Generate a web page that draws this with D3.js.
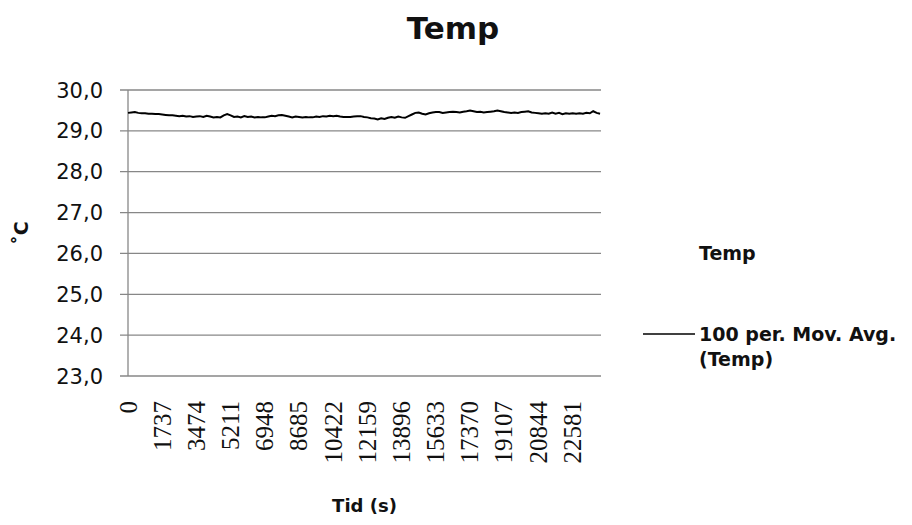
<!DOCTYPE html>
<html>
<head>
<meta charset="utf-8">
<script src="https://cdn.jsdelivr.net/npm/d3@7"></script>
<style>
  html, body { margin: 0; padding: 0; background: #fff; }
  svg { display: block; }
</style>
</head>
<body>
<svg id="chart" width="912" height="525"></svg>
<script>
// Temperature readings (°C), one every 174 s
const sampleStep = 174;
const temps = [
  29.44, 29.45, 29.46, 29.44, 29.43, 29.43, 29.42, 29.42, 29.41, 29.41,
  29.40, 29.39, 29.38, 29.38, 29.37, 29.36, 29.37, 29.35, 29.36, 29.34,
  29.35, 29.36, 29.34, 29.37, 29.35, 29.33, 29.34, 29.33, 29.38, 29.41,
  29.38, 29.34, 29.35, 29.33, 29.36, 29.34, 29.35, 29.33, 29.34, 29.33,
  29.33, 29.35, 29.37, 29.36, 29.38, 29.39, 29.37, 29.35, 29.33, 29.35,
  29.34, 29.33, 29.34, 29.33, 29.33, 29.35, 29.34, 29.36, 29.35, 29.37,
  29.36, 29.37, 29.35, 29.34, 29.34, 29.34, 29.35, 29.36, 29.36, 29.34,
  29.33, 29.31, 29.30, 29.28, 29.31, 29.29, 29.32, 29.34, 29.32, 29.35,
  29.33, 29.32, 29.36, 29.40, 29.44, 29.45, 29.42, 29.40, 29.43, 29.45,
  29.46, 29.46, 29.44, 29.45, 29.46, 29.47, 29.46, 29.45, 29.47, 29.48,
  29.50, 29.48, 29.46, 29.47, 29.45, 29.46, 29.47, 29.48, 29.50, 29.48,
  29.46, 29.45, 29.44, 29.45, 29.44, 29.46, 29.47, 29.48, 29.45, 29.44,
  29.43, 29.42, 29.43, 29.42, 29.45, 29.42, 29.44, 29.41, 29.43, 29.42,
  29.43, 29.42, 29.43, 29.42, 29.44, 29.43, 29.48, 29.44, 29.42
];
const xTickLabels = [0, 1737, 3474, 5211, 6948, 8685, 10422, 12159, 13896,
  15633, 17370, 19107, 20844, 22581];
const yTicks = [23, 24, 25, 26, 27, 28, 29, 30];
const xMax = 24060;

const sans = "'DejaVu Sans', Verdana, sans-serif";
const serif = "'Liberation Serif', 'DejaVu Serif', serif";
const gridColor = "#878787";

const svg = d3.select("#chart");
const plot = { left: 128, right: 601, top: 90, bottom: 376 };

const x = d3.scaleLinear().domain([0, xMax]).range([plot.left, plot.right]);
const y = d3.scaleLinear().domain([23, 30]).range([plot.bottom, plot.top]);

// Horizontal gridlines with short outer ticks
svg.append("g")
  .selectAll("line")
  .data(yTicks)
  .join("line")
  .attr("x1", plot.left - 8)
  .attr("x2", plot.right)
  .attr("y1", d => y(d))
  .attr("y2", d => y(d))
  .attr("stroke", gridColor)
  .attr("stroke-width", 1.3);

// Y axis line
svg.append("line")
  .attr("x1", plot.left).attr("x2", plot.left)
  .attr("y1", plot.top).attr("y2", plot.bottom)
  .attr("stroke", gridColor).attr("stroke-width", 1.3);

// Y tick labels (decimal comma)
svg.append("g")
  .selectAll("text")
  .data(yTicks)
  .join("text")
  .attr("x", 103)
  .attr("y", d => y(d))
  .attr("dy", "0.36em")
  .attr("text-anchor", "end")
  .attr("font-family", sans)
  .attr("font-size", 21)
  .attr("fill", "#111")
  .text(d => d3.format(".1f")(d).replace(".", ","));

// X tick labels, rotated
svg.append("g")
  .selectAll("text")
  .data(xTickLabels)
  .join("text")
  .attr("transform", d => `translate(${x(d)},401) rotate(-90)`)
  .attr("dy", "0.35em")
  .attr("text-anchor", "end")
  .attr("font-family", serif)
  .attr("font-size", 25)
  .attr("fill", "#111")
  .text(d => d);

// Temperature line
const line = d3.line()
  .x((d, i) => x(i * sampleStep))
  .y(d => y(d));

svg.append("path")
  .datum(temps)
  .attr("d", line)
  .attr("fill", "none")
  .attr("stroke", "#000")
  .attr("stroke-width", 2)
  .attr("stroke-linejoin", "miter");

// Title
svg.append("text")
  .attr("x", 453).attr("y", 39)
  .attr("text-anchor", "middle")
  .attr("font-family", sans)
  .attr("font-weight", "bold")
  .attr("font-size", 31)
  .attr("fill", "#111")
  .text("Temp");

// Axis titles
svg.append("text")
  .attr("transform", `translate(28,${(plot.top + plot.bottom) / 2}) rotate(-90)`)
  .attr("text-anchor", "middle")
  .attr("font-family", sans)
  .attr("font-weight", "bold")
  .attr("font-size", 19)
  .attr("fill", "#111")
  .text("˚C");

svg.append("text")
  .attr("x", (plot.left + plot.right) / 2).attr("y", 512)
  .attr("text-anchor", "middle")
  .attr("font-family", sans)
  .attr("font-weight", "bold")
  .attr("font-size", 18)
  .attr("fill", "#111")
  .text("Tid (s)");

// Legend
const legend = svg.append("g")
  .attr("font-family", sans)
  .attr("font-weight", "bold")
  .attr("font-size", 19)
  .attr("fill", "#111");

legend.append("text").attr("x", 699).attr("y", 260).text("Temp");
legend.append("line")
  .attr("x1", 643).attr("x2", 695)
  .attr("y1", 334).attr("y2", 334)
  .attr("stroke", "#000").attr("stroke-width", 1.5);
legend.append("text").attr("x", 699).attr("y", 341).text("100 per. Mov. Avg.");
legend.append("text").attr("x", 699).attr("y", 366).text("(Temp)");
</script>
</body>
</html>
